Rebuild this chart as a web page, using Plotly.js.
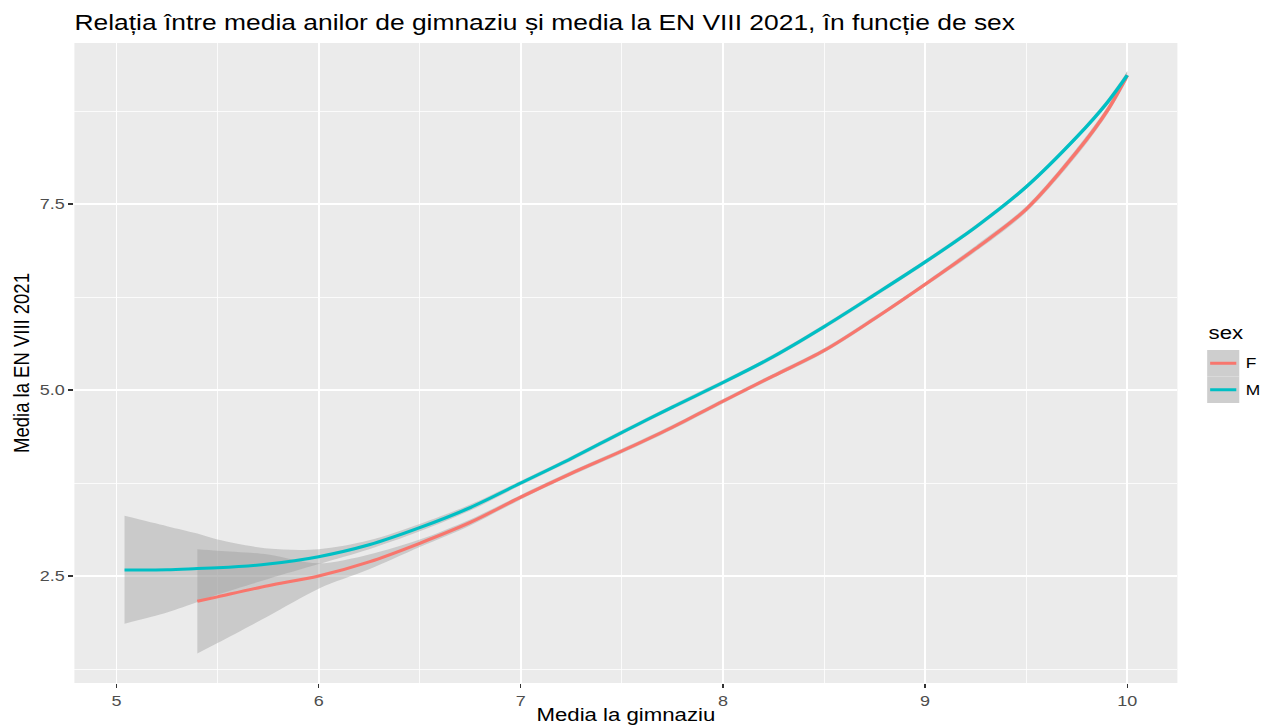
<!DOCTYPE html>
<html>
<head>
<meta charset="utf-8">
<script src="https://cdn.plot.ly/plotly-3.0.1.min.js"></script>
<style>
html,body{margin:0;padding:0;background:#fff;overflow:hidden;}
#wrap{width:1054px;height:725px;transform:scale(1.2002,1);transform-origin:0 0;}
</style>
</head>
<body>
<div id="wrap"><div id="plot"></div></div>
<script>
// Data
const xM  = [5.04, 5.25, 5.4, 5.5, 5.75, 6, 6.25, 6.5, 6.75, 7, 7.25, 7.5, 7.75, 8, 8.25, 8.5, 8.75, 9, 9.25, 9.5, 9.75, 9.9, 10];
const yM  = [2.58, 2.585, 2.60, 2.61, 2.66, 2.76, 2.92, 3.15, 3.42, 3.75, 4.08, 4.43, 4.77, 5.10, 5.45, 5.85, 6.28, 6.72, 7.19, 7.73, 8.40, 8.86, 9.23];
const loM = [1.86, 2.01, 2.15, 2.25, 2.46, 2.66, 2.86, 3.10, 3.38, 3.72, 4.05, 4.40, 4.74, 5.07, 5.42, 5.82, 6.25, 6.69, 7.16, 7.70, 8.37, 8.82, 9.18];
const hiM = [3.31, 3.17, 3.07, 2.99, 2.87, 2.86, 2.98, 3.20, 3.46, 3.78, 4.11, 4.46, 4.80, 5.13, 5.48, 5.88, 6.31, 6.75, 7.22, 7.76, 8.43, 8.90, 9.28];

const xF  = [5.4, 5.5, 5.75, 6, 6.25, 6.5, 6.75, 7, 7.25, 7.5, 7.75, 8, 8.25, 8.5, 8.75, 9, 9.25, 9.5, 9.75, 9.9, 10];
const yF  = [2.16, 2.22, 2.37, 2.50, 2.69, 2.94, 3.22, 3.56, 3.88, 4.18, 4.50, 4.85, 5.19, 5.53, 5.96, 6.42, 6.90, 7.43, 8.20, 8.75, 9.23];
const loF = [1.46, 1.60, 1.96, 2.33, 2.59, 2.89, 3.18, 3.53, 3.85, 4.15, 4.47, 4.82, 5.16, 5.50, 5.93, 6.39, 6.86, 7.39, 8.15, 8.70, 9.17];
const hiF = [2.86, 2.84, 2.79, 2.67, 2.79, 2.99, 3.26, 3.59, 3.91, 4.21, 4.53, 4.88, 5.22, 5.56, 5.99, 6.45, 6.94, 7.47, 8.25, 8.80, 9.29];

const groups = ['F', 'M'];
const colors = {F: '#F8766D', M: '#00BFC4'};

const titleText = 'Relația între media anilor de gimnaziu și media la EN VIII 2021, în funcție de sex';
const xTitle = 'Media la gimnaziu';
const yTitle = 'Media la EN VIII 2021';
const legendTitle = 'sex';

const FONT = 'Liberation Sans, Arial, Helvetica, sans-serif';
const ribbonFill = 'rgba(153,153,153,0.4)';

function ribbon(x, lo, hi) {
  return [
    {x: x, y: lo, mode: 'lines', line: {width: 0, shape: 'spline', smoothing: 0.9}, showlegend: false, hoverinfo: 'skip'},
    {x: x, y: hi, mode: 'lines', line: {width: 0, shape: 'spline', smoothing: 0.9}, fill: 'tonexty', fillcolor: ribbonFill, showlegend: false, hoverinfo: 'skip'}
  ];
}

const traces = [
  ...ribbon(xF, loF, hiF),
  ...ribbon(xM, loM, hiM),
  {x: xF, y: yF, name: 'F', mode: 'lines', line: {color: colors.F, width: 3, shape: 'spline', smoothing: 0.9}, showlegend: false},
  {x: xM, y: yM, name: 'M', mode: 'lines', line: {color: colors.M, width: 3, shape: 'spline', smoothing: 0.9}, showlegend: false}
];

// manual ggplot-style legend
const keyX0 = 1.0270, keyX1 = 1.0561;
const keyTop = 0.5203, keyMid = 0.4789, keyBot = 0.4375;
const shapes = [
  {type: 'rect', xref: 'paper', yref: 'paper', x0: keyX0, x1: keyX1, y0: keyMid, y1: keyTop, fillcolor: '#CECECE', line: {width: 0}},
  {type: 'rect', xref: 'paper', yref: 'paper', x0: keyX0, x1: keyX1, y0: keyBot, y1: keyMid, fillcolor: '#CECECE', line: {width: 0}},
  {type: 'line', xref: 'paper', yref: 'paper', x0: 1.0297, x1: 1.0534, y0: 0.4996, y1: 0.4996, line: {color: colors.F, width: 3}},
  {type: 'line', xref: 'paper', yref: 'paper', x0: 1.0297, x1: 1.0534, y0: 0.4582, y1: 0.4582, line: {color: colors.M, width: 3}}
];
const annotations = [
  {xref: 'paper', yref: 'paper', x: 1.0262, y: 0.547, xanchor: 'left', yanchor: 'middle', text: legendTitle, showarrow: false, font: {family: FONT, size: 18.5, color: '#000'}},
  {xref: 'paper', yref: 'paper', x: 1.0610, y: 0.4996, xanchor: 'left', yanchor: 'middle', text: groups[0], showarrow: false, borderpad: 0, font: {family: FONT, size: 14.5, color: '#000'}},
  {xref: 'paper', yref: 'paper', x: 1.0610, y: 0.4582, xanchor: 'left', yanchor: 'middle', text: groups[1], showarrow: false, borderpad: 0, font: {family: FONT, size: 14.5, color: '#000'}}
];

const layout = {
  width: 1054, height: 725,
  margin: {l: 62, r: 73, t: 43, b: 42, pad: 0},
  paper_bgcolor: '#FFFFFF',
  plot_bgcolor: '#EBEBEB',
  font: {family: FONT, color: '#000'},
  showlegend: false,
  title: {
    text: titleText,
    x: 62 / 1054, xref: 'container', xanchor: 'left',
    y: 1 - 22 / 725, yref: 'container', yanchor: 'middle',
    font: {family: FONT, size: 22, color: '#000'}
  },
  xaxis: {
    range: [4.792, 10.248],
    tick0: 5, dtick: 1,
    showgrid: true, gridcolor: '#FFFFFF', gridwidth: 1.5,
    minor: {tick0: 4.5, dtick: 0.5, showgrid: true, gridcolor: '#FFFFFF', gridwidth: 0.7, ticks: ''},
    zeroline: false, showline: false,
    ticks: 'outside', ticklen: 4, tickwidth: 1.1, tickcolor: '#333333',
    tickfont: {family: FONT, size: 15, color: '#4D4D4D'},
    title: {text: xTitle, font: {family: FONT, size: 18.5, color: '#000'}, standoff: 7},
    automargin: false, fixedrange: true
  },
  yaxis: {
    range: [1.062, 9.664],
    tick0: 0, dtick: 2.5, tickformat: '.1f',
    showgrid: true, gridcolor: '#FFFFFF', gridwidth: 1.5,
    minor: {tick0: 0, dtick: 1.25, showgrid: true, gridcolor: '#FFFFFF', gridwidth: 0.7, ticks: ''},
    zeroline: false, showline: false,
    ticks: 'outside', ticklen: 4, tickwidth: 1.1, tickcolor: '#333333',
    tickfont: {family: FONT, size: 15, color: '#4D4D4D'},
    title: {text: yTitle, font: {family: FONT, size: 18.5, color: '#000'}, standoff: 3},
    automargin: false, fixedrange: true
  },
  shapes: shapes,
  annotations: annotations
};

Plotly.newPlot('plot', traces, layout, {displayModeBar: false, staticPlot: true});
</script>
</body>
</html>
